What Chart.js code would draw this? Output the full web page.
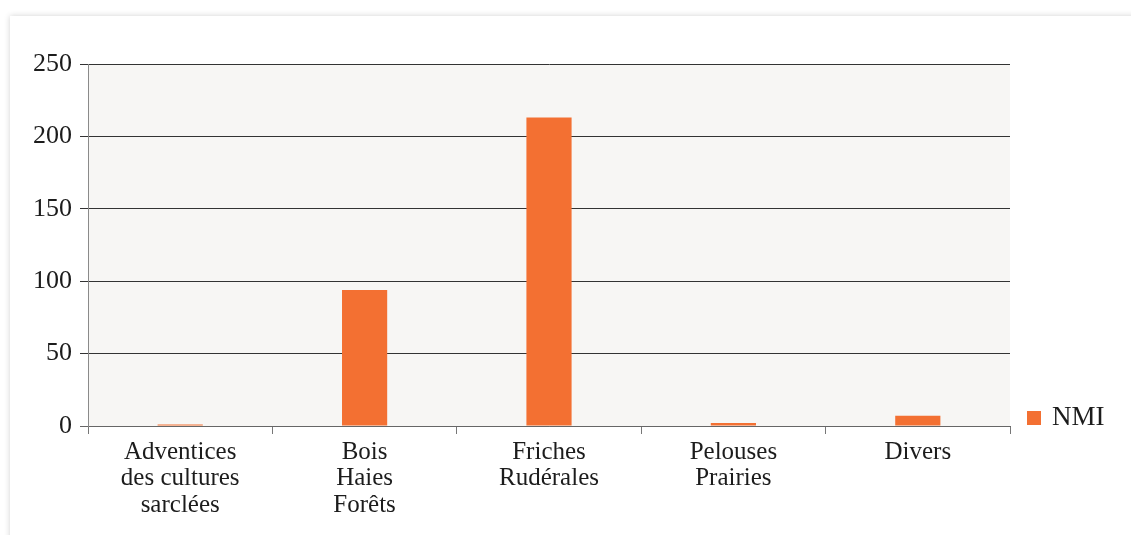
<!DOCTYPE html>
<html>
<head>
<meta charset="utf-8">
<script src="https://cdn.jsdelivr.net/npm/chart.js@4/dist/chart.umd.min.js"></script>
<style>
  html, body { margin: 0; padding: 0; background: #ffffff; overflow: hidden; }
  #card { position: absolute; left: 10px; top: 16px; width: 1200px; height: 600px; background: #fff; box-shadow: 0 0 6px rgba(0,0,0,0.18); }
  #c { position: absolute; left: 0; top: 0; }
</style>
</head>
<body>
<div id="card"></div>
<canvas id="c" width="1131" height="535"></canvas>
<script>
const categories = [
  ['Adventices', 'des cultures', 'sarclées'],
  ['Bois', 'Haies', 'Forêts'],
  ['Friches', 'Rudérales'],
  ['Pelouses', 'Prairies'],
  ['Divers']
];
const seriesLabel = 'NMI';
const nmiValues = [1, 94, 213, 2, 7];
const yTicks = [0, 50, 100, 150, 200, 250];

const FONT = "'Liberation Serif', 'DejaVu Serif', serif";
const TEXT = '#1c1c1c';
const BAR = '#f37032';

const plotBg = {
  id: 'plotBg',
  beforeDraw(chart) {
    const { ctx, chartArea: a } = chart;
    ctx.save();
    ctx.fillStyle = '#f7f6f4';
    ctx.fillRect(a.left, a.top, a.right - a.left, a.bottom - a.top);
    ctx.restore();
  }
};

const sideLegend = {
  id: 'sideLegend',
  afterDraw(chart) {
    const { ctx } = chart;
    const ds = chart.data.datasets[0];
    const y0 = chart.scales.y.getPixelForValue(0);
    ctx.save();
    ctx.fillStyle = ds.backgroundColor;
    ctx.fillRect(1027, y0 - 15, 14, 14);
    ctx.fillStyle = TEXT;
    ctx.font = '27px ' + FONT;
    ctx.textBaseline = 'alphabetic';
    ctx.textAlign = 'left';
    ctx.fillText(ds.label, 1052, y0 - 1);
    ctx.restore();
  }
};

new Chart(document.getElementById('c'), {
  type: 'bar',
  data: {
    labels: categories,
    datasets: [{
      label: seriesLabel,
      data: nmiValues,
      backgroundColor: BAR,
      borderWidth: 0,
      categoryPercentage: 1,
      barPercentage: 0.245
    }]
  },
  options: {
    responsive: false,
    animation: false,
    layout: { padding: { left: 0, top: 64, right: 121, bottom: 0 } },
    plugins: { legend: { display: false }, tooltip: { enabled: false } },
    scales: {
      x: {
        afterFit(scale) { scale.height = 109; },
        grid: {
          offset: true,
          drawOnChartArea: false,
          drawTicks: true,
          tickLength: 8,
          color: '#777777',
          lineWidth: 1
        },
        border: { display: true, color: '#666666', width: 1 },
        ticks: {
          color: TEXT,
          padding: 5,
          maxRotation: 0,
          autoSkip: false,
          font: { family: FONT, size: 25, lineHeight: 1.06 }
        }
      },
      y: {
        min: 0,
        max: 250,
        afterFit(scale) { scale.width = 88; },
        afterBuildTicks(scale) { scale.ticks = yTicks.map(v => ({ value: v })); },
        grid: {
          drawTicks: true,
          tickLength: 8,
          color: ctx => (ctx.tick && ctx.tick.value === 0) ? '#666666' : '#333333',
          lineWidth: 1
        },
        border: { display: true, color: '#8a8a8a', width: 1 },
        ticks: {
          color: TEXT,
          padding: 8,
          font: { family: FONT, size: 26 }
        }
      }
    }
  },
  plugins: [plotBg, sideLegend]
});
</script>
</body>
</html>
